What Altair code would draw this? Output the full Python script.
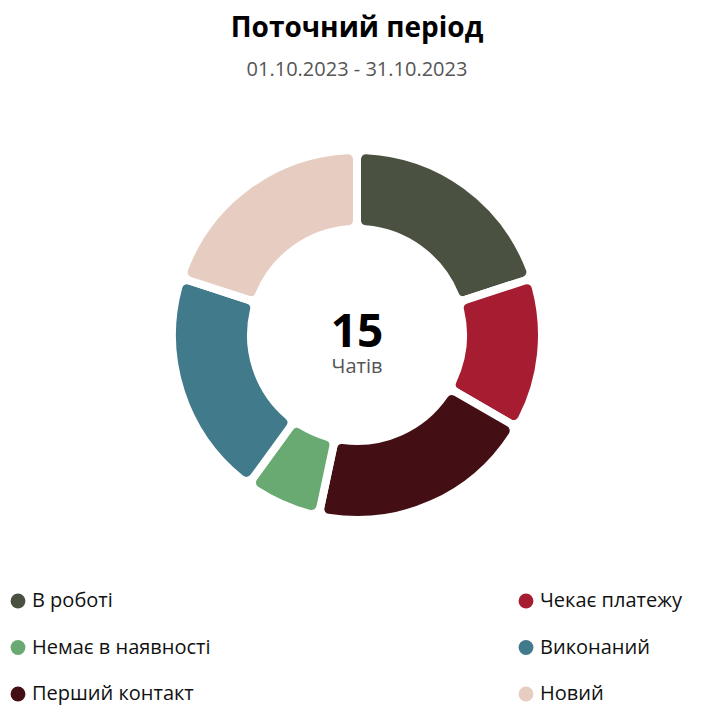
import altair as alt
import pandas as pd

# chat statuses in clockwise order around the ring
statuses = ["В роботі", "Чекає платежу", "Перший контакт", "Немає в наявності", "Виконаний", "Новий"]
chats = [3, 2, 3, 1, 3, 3]
colors = ["#4b5140", "#a61c31", "#430f14", "#69aa72", "#417a8b", "#e7cdc1"]

# legend fills column by column: left column first, then right
legend_order = ["В роботі", "Немає в наявності", "Перший контакт", "Чекає платежу", "Виконаний", "Новий"]
legend_colors = [colors[statuses.index(s)] for s in legend_order]

title = "Поточний період"
subtitle = "01.10.2023 - 31.10.2023"
unit_label = "Чатів"

FONT = "Open Sans"

df = pd.DataFrame({"status": statuses, "chats": chats, "idx": range(len(statuses))})

base = alt.Chart(df)

ring = base.mark_arc(
    innerRadius=106, outerRadius=185, cornerRadius=9, stroke="white", strokeWidth=8
).encode(
    theta=alt.Theta("chats:Q", stack=True),
    order=alt.Order("idx:Q"),
    color=alt.Color(
        "status:N",
        scale=alt.Scale(domain=legend_order, range=legend_colors),
        legend=alt.Legend(
            title=None,
            orient="none",
            legendX=0,
            legendY=456,
            padding=0,
            columns=2,
            columnPadding=305,
            rowPadding=26.5,
            symbolType="circle",
            symbolSize=220,
            symbolStrokeWidth=0,
            labelFont=FONT,
            labelFontSize=20,
            labelColor="#111111",
            labelOffset=4,
            labelLimit=300,
        ),
    ),
)

total = base.transform_aggregate(total="sum(chats)").mark_text(
    font=FONT, fontSize=46, fontWeight="bold", color="#000000", dy=-2
).encode(text="total:Q")

unit = base.transform_aggregate(total="sum(chats)").mark_text(
    font=FONT, fontSize=20, color="#555555", dy=32
).encode(text=alt.value(unit_label))

chart = alt.layer(ring, total, unit).properties(
    width=698,
    height=400,
    padding={"top": 7, "left": 0, "right": 0, "bottom": 4},
    title=alt.TitleParams(
        text=title,
        subtitle=subtitle,
        anchor="middle",
        font=FONT,
        fontSize=28,
        fontWeight="bold",
        color="#000000",
        subtitleFont=FONT,
        subtitleFontSize=20,
        subtitleColor="#555555",
        subtitlePadding=17,
        offset=54,
    ),
).configure_view(strokeWidth=0)

chart.save("out.html", embed_options={"renderer": "svg", "actions": False})
